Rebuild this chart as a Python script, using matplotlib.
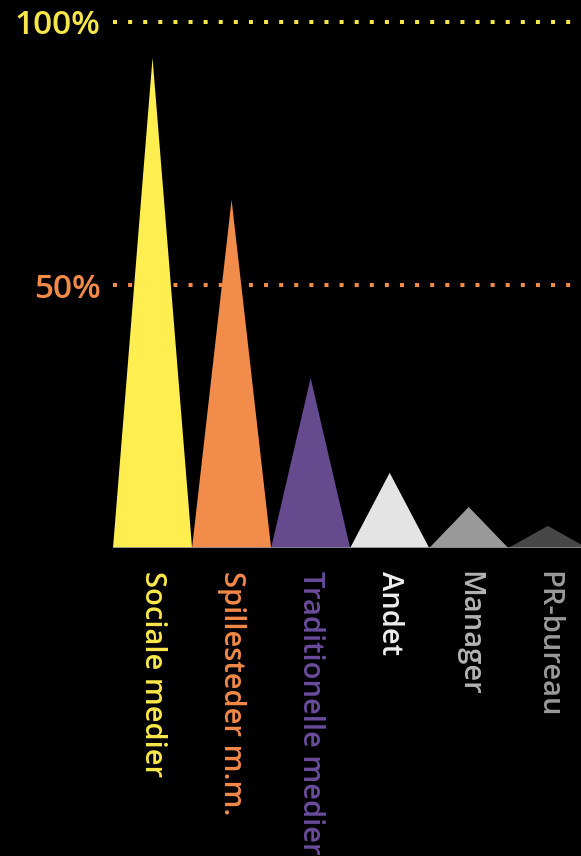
import matplotlib.pyplot as plt

plt.rcParams['font.family'] = ['Open Sans', 'DejaVu Sans']

# data (percent of respondents)
kanaler = ["Sociale medier", "Spillesteder m.m.", "Traditionelle medier",
           "Andet", "Manager", "PR-bureau"]
andel = [93.2, 66.2, 32.3, 14.3, 7.8, 4.2]
fill_farver = ["#FFEE4F", "#F28C4A", "#654A8E", "#E4E4E4", "#999999", "#474747"]
tekst_farver = ["#FBE84A", "#F28A48", "#6A4C9C", "#EEEEEE", "#B4B4B4", "#9A9A9A"]

ref_linjer = [50, 100]
ref_labels = ["50%", "100%"]
ref_farver = ["#F28A48", "#F7E64A"]

fig = plt.figure(figsize=(5.81, 8.56), dpi=100, facecolor="black")
ax = fig.add_axes([113 / 581, 308 / 856, 468 / 581, 526 / 856])
ax.set_facecolor("black")

# dotted reference lines behind the triangles
for v, c in zip(ref_linjer, ref_farver):
    ax.axhline(v, color=c, lw=2.9, linestyle=(0, (1, 2.75)),
               dash_capstyle="butt", clip_on=False, zorder=1)

# triangles, one unit wide each
for i, (v, c) in enumerate(zip(andel, fill_farver)):
    ax.fill([i - 0.5, i, i + 0.5], [0, v, 0], color=c, lw=0, zorder=2)

ax.axhline(0, color="#8A8A8A", lw=1.2, zorder=3)

for i, (navn, c) in enumerate(zip(kanaler, tekst_farver)):
    ax.text(i, -4.4, navn, rotation=-90, ha="center", va="top", color=c,
            fontsize=21, fontweight="semibold", clip_on=False)

ax.set_xlim(-0.5, 5.42)
ax.set_ylim(0, 100)
ax.set_xticks([])
ax.set_yticks(ref_linjer)
ax.set_yticklabels(ref_labels, fontsize=24, fontweight="semibold")
for lbl, c in zip(ax.get_yticklabels(), ref_farver):
    lbl.set_color(c)
ax.tick_params(axis="y", length=0, pad=9)
for s in ax.spines.values():
    s.set_visible(False)

fig.savefig("out.png", dpi=100, facecolor="black")
